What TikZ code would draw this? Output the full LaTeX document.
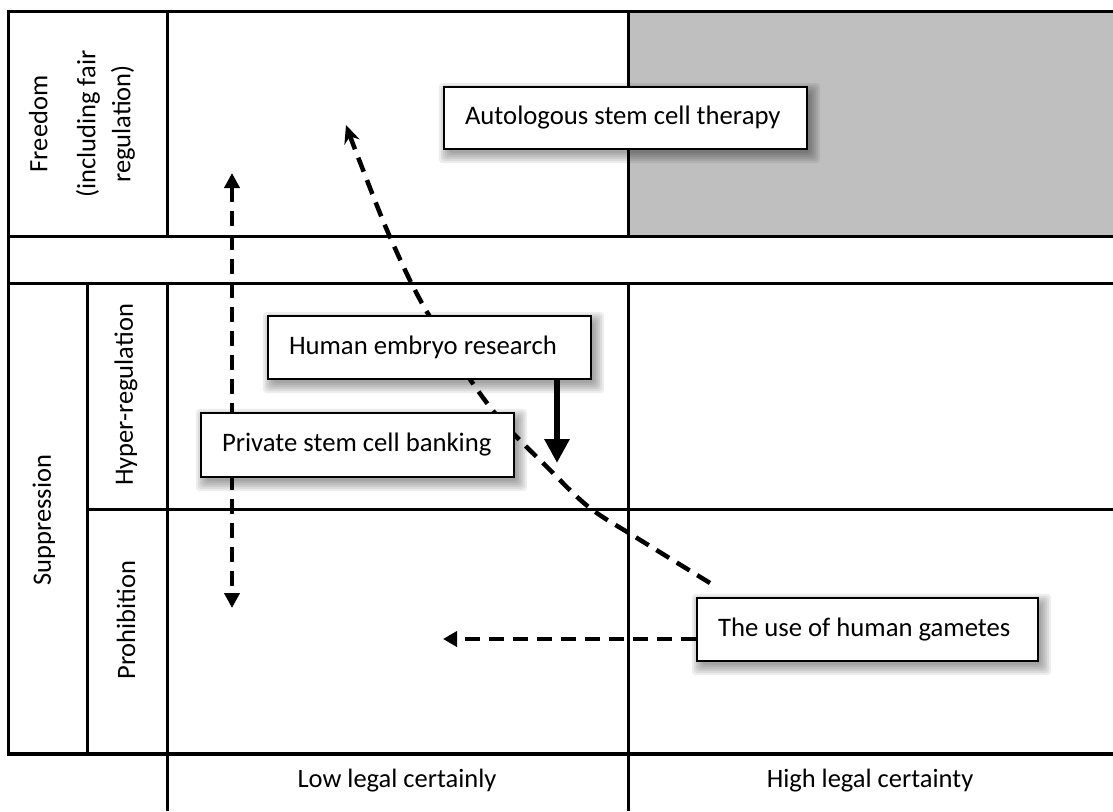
\documentclass[tikz,border=0pt]{standalone}
\usepackage{fontspec}
\setmainfont{Carlito}
\usetikzlibrary{arrows.meta}
\pgfdeclarelayer{gridlayer}
\pgfdeclarelayer{connlayer}
\pgfdeclarelayer{shadowlayer}
\pgfsetlayers{gridlayer,connlayer,shadowlayer,main}
\newcommand\boxshadow[1]{%
  \foreach \r in {8,6,4,2,0,-2}{%
    \fill[black, opacity=0.07, rounded corners=4pt]
      ([xshift={(4-(\r))*1pt}, yshift={(-5-(\r))*1pt}]#1.south west) rectangle
      ([xshift={(4+(\r))*1pt}, yshift={(-5+(\r))*1pt}]#1.north east);
  }}
\begin{document}
\begin{tikzpicture}[x=1pt,y=-1pt,
  grid/.style={line width=3pt},
  item/.style={draw, line width=2.4pt, fill=white, inner xsep=21pt, inner ysep=0pt,
    minimum height=62pt, font=\fontsize{26.7}{32}\selectfont},
  lab/.style={font=\fontsize{26.5}{35}\selectfont, rotate=90, align=center},
  axis/.style={font=\fontsize{26.5}{32}\selectfont},
  dasharrow/.style={line width=4.5pt, dash pattern=on 15pt off 9pt},
  ]
\useasboundingbox (0,0) rectangle (1113,811);
\begin{pgfonlayer}{gridlayer}
% grey cell
\fill[fill=black!25] (628,11) rectangle (1113,236);
% grid
\draw[grid] (8,11) -- (1113,11);
\draw[grid] (8,236) -- (1113,236);
\draw[grid] (8,283) -- (1113,283);
\draw[grid] (87,509) -- (1113,509);
\draw[grid,line width=3.6pt] (8,754) -- (1113,754);
\draw[grid] (8,9.5) -- (8,755.8);
\draw[grid] (167,11) -- (167,236);
\draw[grid] (628,11) -- (628,236);
\draw[grid] (87,283) -- (87,754);
\draw[grid] (167,283) -- (167,811);
\draw[grid] (628,283) -- (628,811);
\end{pgfonlayer}
% row / column labels
\node[lab] (free) at (82,124) {Freedom\\[13pt](including fair\\regulation)};
\node[lab] (supp) at (44,520) {Suppression};
\node[lab] (hyper) at (126,395) {Hyper-regulation};
\node[lab] (prohib) at (126,620) {Prohibition};
\node[axis] (low) at (397,781) {Low legal certainly};
\node[axis] (high) at (870,781) {High legal certainty};
% free-end coordinates
\coordinate (vtop) at (232,173);
\coordinate (vbot) at (232,608);
\coordinate (cstart) at (710,583);
\coordinate (ctip) at (346,125);
\coordinate (stip) at (557,463);
\coordinate (htip) at (443,639);
% boxes
\path (625.5,118) node[item] (auto) {\makebox[321pt][l]{Autologous stem cell therapy}};
\path (429.5,347.5) node[item, minimum height=63pt] (emb) {\makebox[281pt][l]{Human embryo research}};
\path (357.5,445) node[item, minimum height=64pt] (priv) {\makebox[271pt][l]{Private stem cell banking}};
\path (867.5,629.5) node[item, minimum height=63pt] (gam) {\makebox[299pt][l]{The use of human gametes}};
\begin{pgfonlayer}{shadowlayer}
\boxshadow{auto}
\boxshadow{emb}
\boxshadow{priv}
\boxshadow{gam}
\end{pgfonlayer}
% connectors (behind boxes)
\begin{pgfonlayer}{connlayer}
\draw[dasharrow, {Triangle[width=15pt,length=15pt]}-{Triangle[width=15pt,length=15pt]}] (vtop) -- (vbot);
\draw[dasharrow, -{Stealth[width=16pt,length=18pt,inset=6pt]}] plot[smooth, tension=0.55] coordinates
  {(cstart) (637,538) (590,508) (550,470) (490,407) (427,312) (390,237) (358,157) (ctip)};
\draw[line width=6.5pt, -{Triangle[width=24pt,length=24pt]}] (emb.south -| stip) -- (stip);
\draw[dasharrow, -{Triangle[width=15pt,length=14pt]}] (gam.west |- htip) -- (htip);
\end{pgfonlayer}
\end{tikzpicture}
\end{document}
